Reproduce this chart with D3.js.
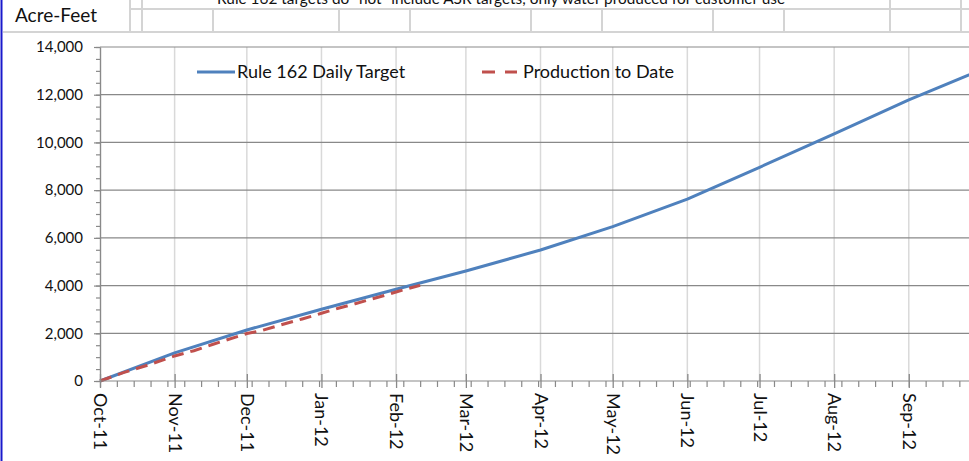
<!DOCTYPE html>
<html><head><meta charset="utf-8">
<script src="https://cdn.jsdelivr.net/npm/d3@7"></script>
<style>html,body{margin:0;padding:0;background:#fff;overflow:hidden}svg{display:block;font-family:Lato,"Open Sans",sans-serif}</style>
</head><body><svg id="c" width="969" height="461"></svg>
<script>
// ---------- data ----------
const monthLabels = ["Oct-11","Nov-11","Dec-11","Jan-12","Feb-12","Mar-12","Apr-12","May-12","Jun-12","Jul-12","Aug-12","Sep-12"];
const monthDates = ["2011-10-01","2011-11-01","2011-12-01","2012-01-01","2012-02-01","2012-03-01","2012-04-01","2012-05-01","2012-06-01","2012-07-01","2012-08-01","2012-09-01"];
const targetDates = ["2011-10-01","2011-11-01","2011-12-01","2012-01-01","2012-02-01","2012-03-01","2012-04-01","2012-05-01","2012-06-01","2012-07-01","2012-08-01","2012-09-01","2012-10-01"];
const targetValues = [0,1180,2140,3005,3843,4611,5492,6469,7620,8957,10354,11780,13040];
const productionDates = ["2011-10-01","2011-10-11","2011-10-21","2011-11-01","2011-11-09","2011-11-17","2011-11-27","2011-12-01","2011-12-07","2011-12-14","2011-12-24","2012-01-01","2012-01-08","2012-01-15","2012-01-22","2012-01-29","2012-02-01","2012-02-08","2012-02-11"];
const productionValues = [0,360,670,1050,1270,1540,1860,1990,2110,2320,2600,2838,3050,3240,3440,3640,3731,3930,4010];
const yTickValues = [0,2000,4000,6000,8000,10000,12000,14000];
const seriesNames = ["Rule 162 Daily Target","Production to Date"];
const seriesColors = ["#4f81bd","#c0504d"];
const yAxisTitle = "Acre-Feet";
const headerNote = 'Rule 162 targets do "not" include ASR targets, only water produced for customer use';

// ---------- setup ----------
const parse = d3.timeParse("%Y-%m-%d");
const svg = d3.select("#c");
const W = 969, H = 461;
const plotL = 100, plotT = 47, plotB = 381;
const x = d3.scaleTime().domain([parse("2011-10-01"), parse("2012-10-01")]).range([plotL, 981]);
const y = d3.scaleLinear().domain([0, 14000]).range([plotB, plotT]);

svg.append("rect").attr("width", W).attr("height", H).attr("fill", "#fff");

// ---------- spreadsheet header ----------
const hdr = svg.append("g").attr("stroke", "#d4d4d4").attr("stroke-width", 2);
hdr.append("line").attr("x1", 130).attr("x2", W).attr("y1", 9).attr("y2", 9);
hdr.append("line").attr("x1", 3).attr("x2", W).attr("y1", 32).attr("y2", 32);
[[130,0],[142,0],[213,9],[339,9],[410,9],[531,9],[602,9],[713,9],[784,9],[890,0],[961,0]].forEach(([cx, y0]) => {
  hdr.append("line").attr("x1", cx).attr("x2", cx).attr("y1", y0).attr("y2", 32);
});
svg.append("rect").attr("x", 3).attr("y", 0).attr("width", 126).attr("height", 31).attr("fill", "#fff");
svg.append("text").attr("x", 217).attr("y", 4).attr("font-size", 16).attr("fill", "#111")
  .attr("textLength", 568).attr("lengthAdjust", "spacingAndGlyphs").text(headerNote);
svg.append("text").attr("x", 15).attr("y", 22).attr("font-size", 19).attr("fill", "#111").text(yAxisTitle);
svg.append("line").attr("x1", 1.5).attr("x2", 1.5).attr("y1", 0).attr("y2", H).attr("stroke", "#1a1acc").attr("stroke-width", 2);

// ---------- gridlines ----------
const mDates = monthDates.map(parse);
svg.append("g").selectAll("line").data(mDates.slice(1)).join("line")
  .attr("x1", d => x(d)).attr("x2", d => x(d)).attr("y1", plotT).attr("y2", plotB)
  .attr("stroke", "#d9d9d9").attr("stroke-width", 1.5);
svg.append("g").selectAll("line").data(yTickValues.slice(1)).join("line")
  .attr("x1", plotL).attr("x2", W).attr("y1", d => y(d)).attr("y2", d => y(d))
  .attr("stroke", "#898989").attr("stroke-width", 1.2);

// ---------- series ----------
const line = d3.line().x(d => x(d[0])).y(d => y(d[1]));
const tData = targetDates.map((d, i) => [parse(d), targetValues[i]]);
const pData = productionDates.map((d, i) => [parse(d), productionValues[i]]);
svg.append("path").datum(tData).attr("d", line).attr("fill", "none")
  .attr("stroke", seriesColors[0]).attr("stroke-width", 3).attr("stroke-linejoin", "round");
svg.append("path").datum(pData).attr("d", line).attr("fill", "none")
  .attr("stroke", seriesColors[1]).attr("stroke-width", 3).attr("stroke-dasharray", "12,7");

// ---------- axes ----------
const axisColor = "#898989";
// y axis
const yAx = svg.append("g").attr("transform", `translate(${plotL},0)`)
  .call(d3.axisLeft(y).tickValues(yTickValues).tickFormat(d3.format(",")).tickSizeInner(6).tickSizeOuter(0).tickPadding(11));
const yMinor = svg.append("g").attr("transform", `translate(${plotL},0)`)
  .call(d3.axisLeft(y).tickValues(d3.range(0, 14001, 500)).tickFormat("").tickSizeInner(4).tickSizeOuter(0));
[yAx, yMinor].forEach(g => {
  g.select(".domain").attr("stroke", axisColor).attr("stroke-width", 1.2);
  g.selectAll(".tick line").attr("stroke", axisColor).attr("stroke-width", 1.2);
});
yAx.selectAll("text").attr("font-size", 15).attr("fill", "#111").attr("font-family", "Lato");

// x axis
const xMinorDates = d3.range(0, 53).map(i => d3.timeDay.offset(parse("2011-10-01"), 7 * i));
const xMinor = svg.append("g").attr("transform", `translate(0,${plotB})`)
  .call(d3.axisBottom(x).tickValues(xMinorDates).tickFormat("").tickSizeInner(6).tickSizeOuter(0));
xMinor.select(".domain").attr("stroke", axisColor).attr("stroke-width", 1.2).attr("d", `M${plotL},0H${W}`);
xMinor.selectAll(".tick line").attr("stroke", axisColor).attr("stroke-width", 1.2);
const xMajor = svg.append("g").attr("transform", `translate(0,${plotB})`)
  .call(d3.axisBottom(x).tickValues(mDates).tickFormat((d, i) => monthLabels[i]).tickSizeInner(7).tickSizeOuter(0));
xMajor.select(".domain").remove();
xMajor.selectAll(".tick line").attr("y1", -7).attr("y2", 7).attr("stroke", axisColor).attr("stroke-width", 1.3);
xMajor.selectAll(".tick text").attr("transform", "translate(0,12) rotate(90)")
  .attr("x", 0).attr("y", 0).attr("dy", "0.36em").attr("text-anchor", "start")
  .attr("font-size", 18).attr("fill", "#111").attr("font-family", "Lato");

// ---------- legend ----------
const leg = svg.append("g");
leg.append("line").attr("x1", 197).attr("x2", 235).attr("y1", 72).attr("y2", 72)
  .attr("stroke", seriesColors[0]).attr("stroke-width", 3);
leg.append("text").attr("x", 237).attr("y", 78).attr("font-size", 18).attr("fill", "#111").text(seriesNames[0]);
leg.append("line").attr("x1", 482).attr("x2", 517).attr("y1", 72).attr("y2", 72)
  .attr("stroke", seriesColors[1]).attr("stroke-width", 3).attr("stroke-dasharray", "13,10");
leg.append("text").attr("x", 523).attr("y", 78).attr("font-size", 18).attr("fill", "#111").text(seriesNames[1]);
</script></body></html>
